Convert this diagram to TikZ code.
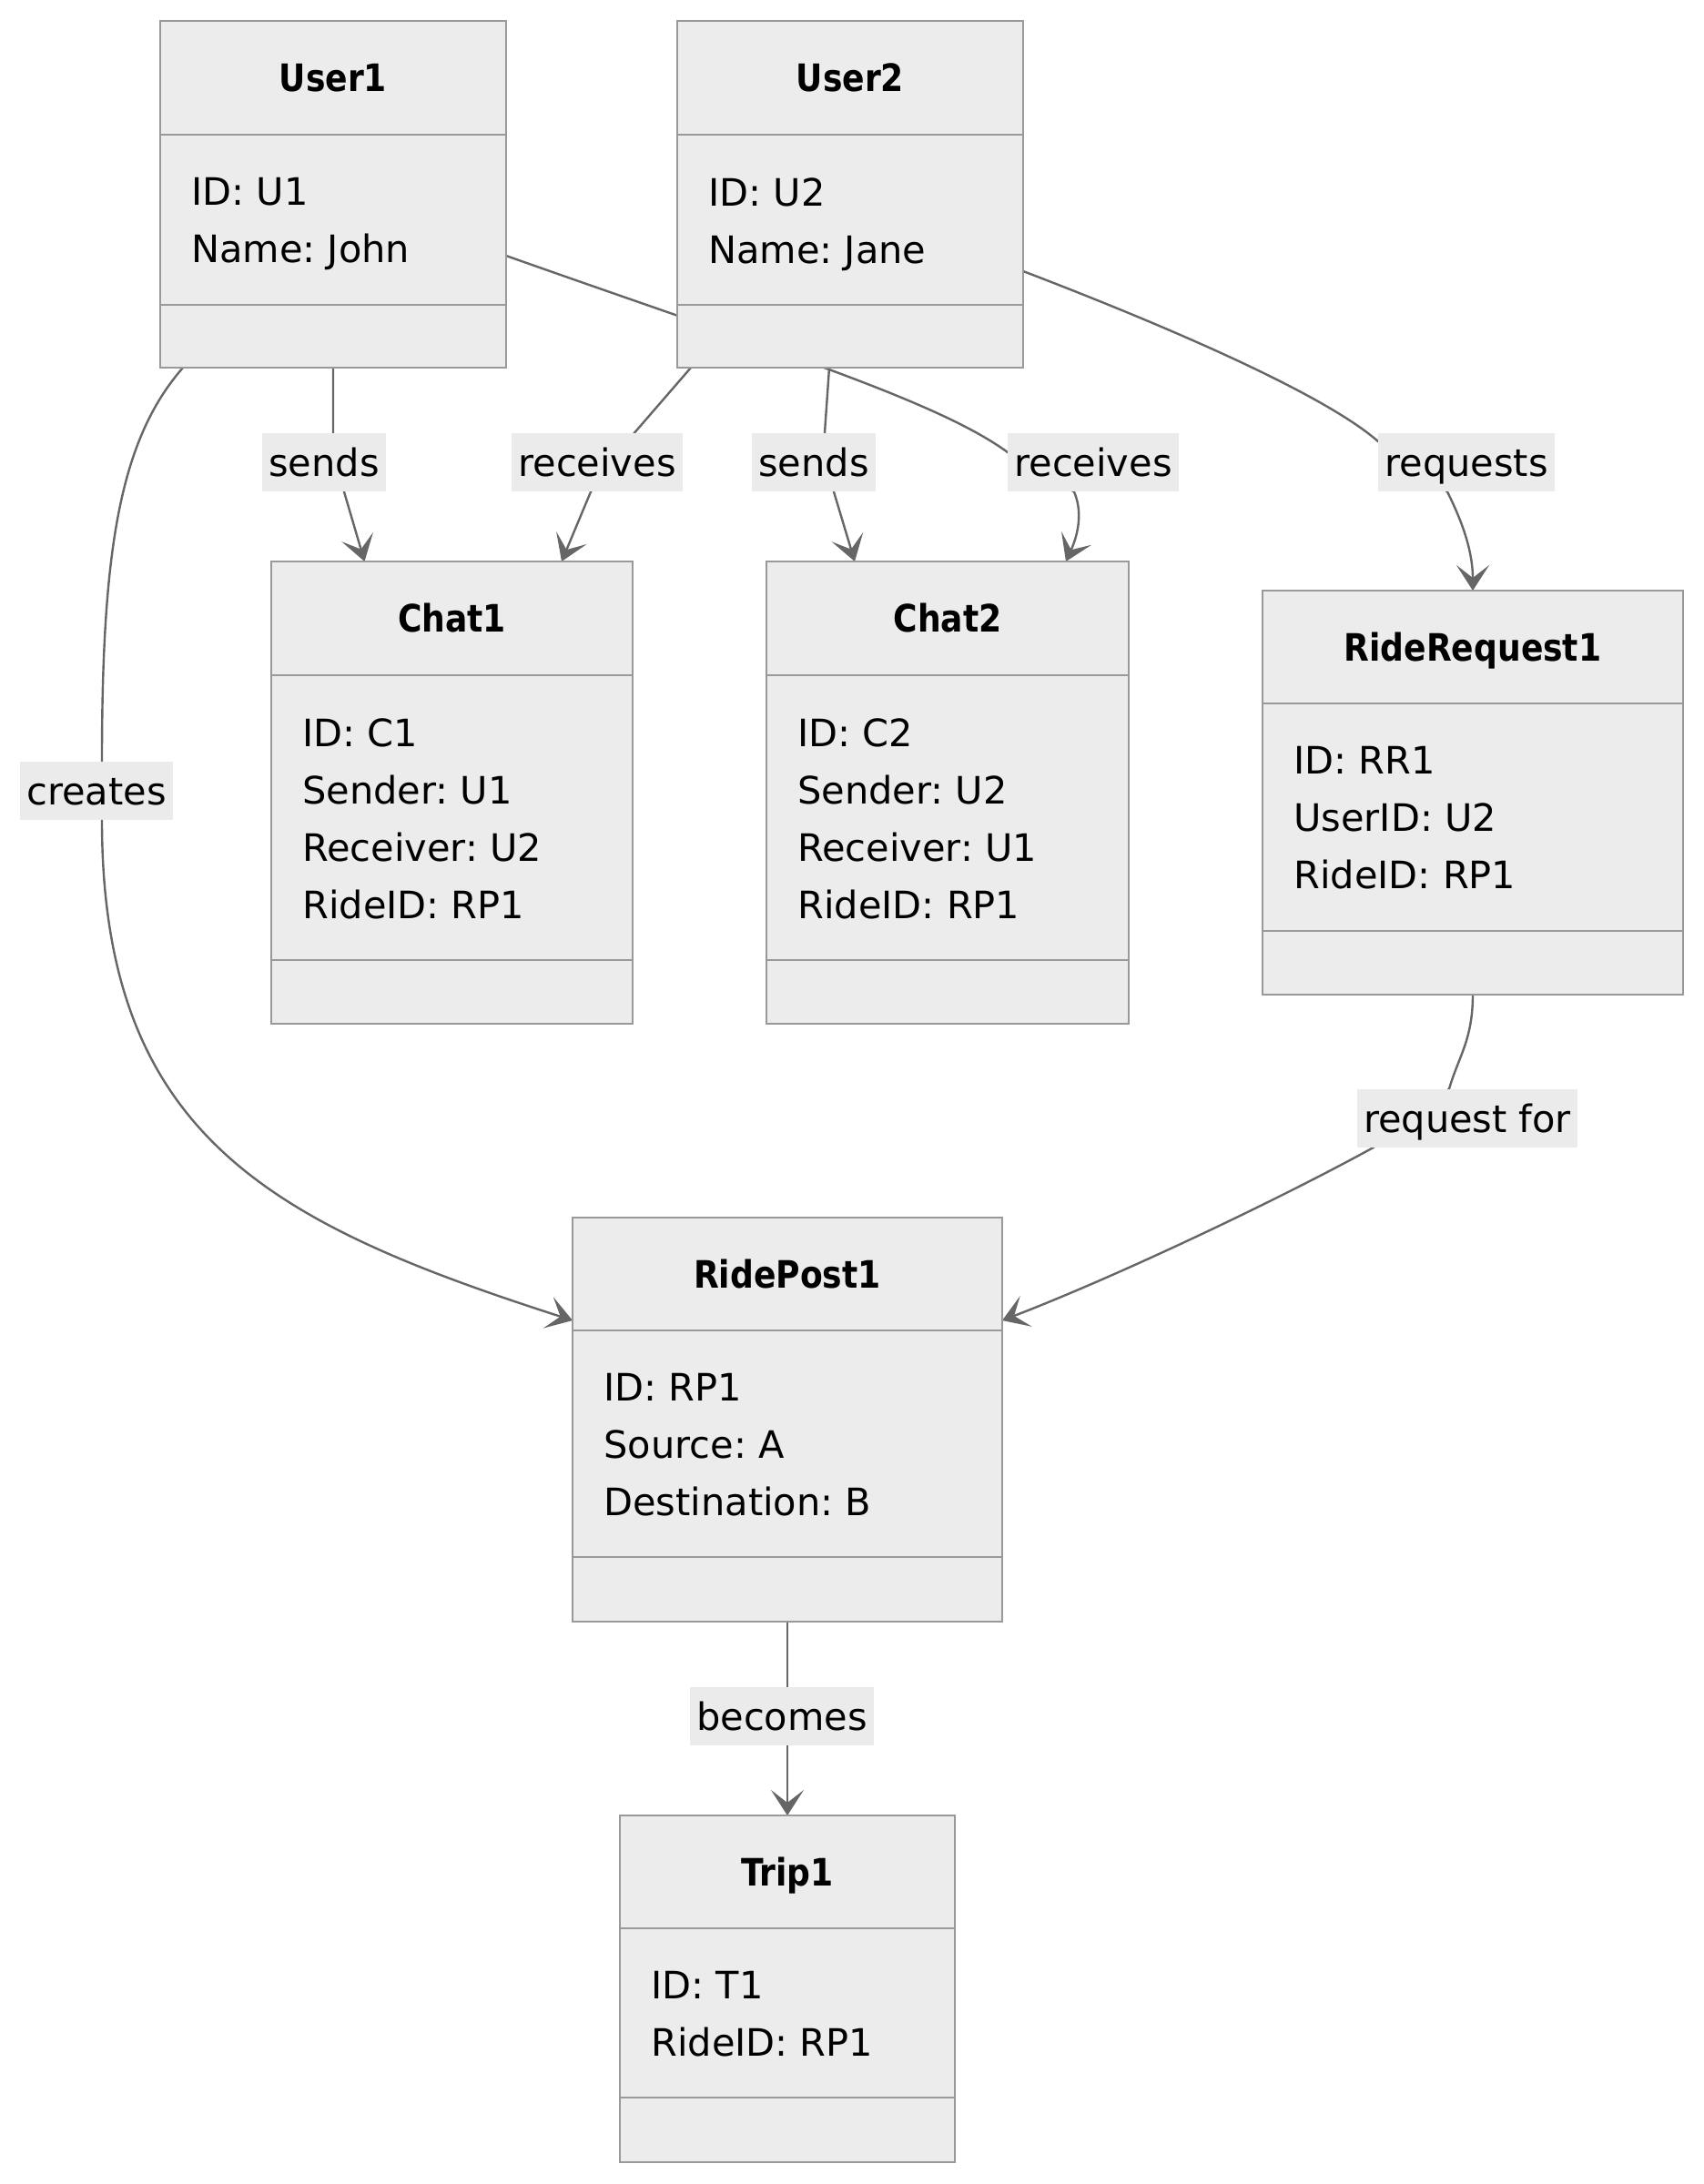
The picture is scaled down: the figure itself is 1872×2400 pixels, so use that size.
\documentclass[tikz,border=0pt]{standalone}
\usepackage{fontspec}
\setmainfont{DejaVu Sans}
\newfontfamily\headfont{DejaVu Sans}[FakeStretch=0.87]
\usetikzlibrary{arrows.meta}
\definecolor{boxfill}{HTML}{ECECEC}
\definecolor{boxline}{HTML}{999999}
\definecolor{linkgray}{HTML}{666666}
\definecolor{labelfill}{HTML}{EBEBEB}
\pgfdeclarelayer{edges}
\pgfsetlayers{edges,main}

\begin{document}
\frenchspacing
\begin{tikzpicture}
  [x=0.5pt,y=-0.5pt,font=\fontsize{20.75pt}{31.5pt}\selectfont,
   classframe/.style={rectangle,draw=boxline,fill=boxfill,line width=1.4pt,inner sep=0,outer sep=0},
   frameline/.style={draw=boxline,line width=1.4pt},
   titletext/.style={anchor=base,inner sep=0,font={\headfont\fontsize{20.75pt}{31.5pt}\selectfont\bfseries}},
   attrtext/.style={anchor=north west,inner sep=0,align=left},
   edgelabel/.style={fill=labelfill,inner xsep=3.5pt,inner ysep=0,minimum height=32pt,text height=15pt,text depth=0pt},
   link/.style={draw=linkgray,line width=1.2pt,-{Stealth[length=14pt,width=18pt,inset=7pt]}}]
  \useasboundingbox (0,0) rectangle (1872,2400);

  \foreach \bx/\xa/\ya/\xb/\yb/\yh/\ym/\btitle/\battrs in {
    user1/176/23/556/404/148/335/User1/{ID: U1\\Name: John},
    user2/744/23/1124/404/148/335/User2/{ID: U2\\Name: Jane},
    chat1/298/617/695/1125/742/1055/Chat1/{ID: C1\\Sender: U1\\Receiver: U2\\RideID: RP1},
    chat2/842/617/1240/1125/742/1055/Chat2/{ID: C2\\Sender: U2\\Receiver: U1\\RideID: RP1},
    rr1/1387/649/1849/1093/773/1023/RideRequest1/{ID: RR1\\UserID: U2\\RideID: RP1},
    ridepost1/629/1338/1101/1782/1462/1711/RidePost1/{ID: RP1\\Source: A\\Destination: B},
    trip1/681/1995/1049/2376/2119/2305/Trip1/{ID: T1\\RideID: RP1}}
  {
    \node[classframe,minimum width={(\xb-\xa)*0.5pt},minimum height={(\yb-\ya)*0.5pt}]
      (\bx) at ({(\xa+\xb)/2},{(\ya+\yb)/2}) {};
    \draw[frameline] (\xa,\yh) -- (\xb,\yh) (\xa,\ym) -- (\xb,\ym);
    \node[titletext] at ({(\xa+\xb)/2},{(\ya+\yh)/2+15}) {\btitle};
    \node[attrtext] at (\xa+34,\yh+47) {\battrs};
  }

  % edge labels
  \node[edgelabel] (lsends1) at (356,508) {sends};
  \node[edgelabel] (lrecv1) at (656,508) {receives};
  \node[edgelabel] (lsends2) at (894,508) {sends};
  \node[edgelabel] (lrecv2) at (1201,508) {receives};
  \node[edgelabel] (lreq) at (1611,508) {requests};
  \node[edgelabel] (lcreates) at (106,869) {creates};
  \node[edgelabel] (lreqfor) at (1612,1229) {request for};
  \node[edgelabel] (lbecomes) at (859,1886) {becomes};

  \begin{pgfonlayer}{edges}
    \draw[link] (user1.south) -- (user1.south |- lsends1.north) -- ([xshift=11pt]lsends1.south)
      -- ([xshift=-48pt]chat1.north);
    \draw[link] ([xshift=7.5pt]user2.south west) -- ([xshift=20.5pt]lrecv1.north)
      -- ([xshift=-3.5pt]lrecv1.south) -- ([xshift=60.25pt]chat1.north);
    \draw[link] ([xshift=-11.5pt]user2.south) -- ([xshift=6pt]lsends2.north)
      -- ([xshift=11pt]lsends2.south) -- ([xshift=-51pt]chat2.north);
    \draw[link] ([yshift=-33.75pt]user1.east) .. controls +(294,104) and +(-78,-57) .. ([yshift=5.5pt]lrecv2.west)
      -- ([xshift=-10.5pt]lrecv2.south) .. controls +(12,28) and +(9,-20) .. ([xshift=65pt]chat2.north);
    \draw[link] ([yshift=-42.25pt]user2.east) .. controls +(170,65) and +(-57,-50) .. ([yshift=11.5pt]lreq.west)
      -- ([xshift=-10.5pt]lreq.south) .. controls +(15,30) and +(0,-45) .. (rr1.north);
    \draw[link] ([xshift=12.5pt]user1.south west) .. controls +(-70,80) and +(0,-230) .. ([xshift=3pt]lcreates.north)
      -- ([xshift=3pt]lcreates.south) .. controls +(0,348) and +(-329,-106) .. ([yshift=54.5pt]ridepost1.west);
    \draw[link] (rr1.south) .. controls +(0,50) and +(10,-35) .. ([xshift=-10pt]lreqfor.north)
      -- ([xshift=-52pt]lreqfor.south) .. controls +(-100,55) and +(130,-50) .. ([yshift=54.5pt]ridepost1.east);
    \draw[link] (ridepost1) -- (trip1);
  \end{pgfonlayer}
\end{tikzpicture}
\end{document}
